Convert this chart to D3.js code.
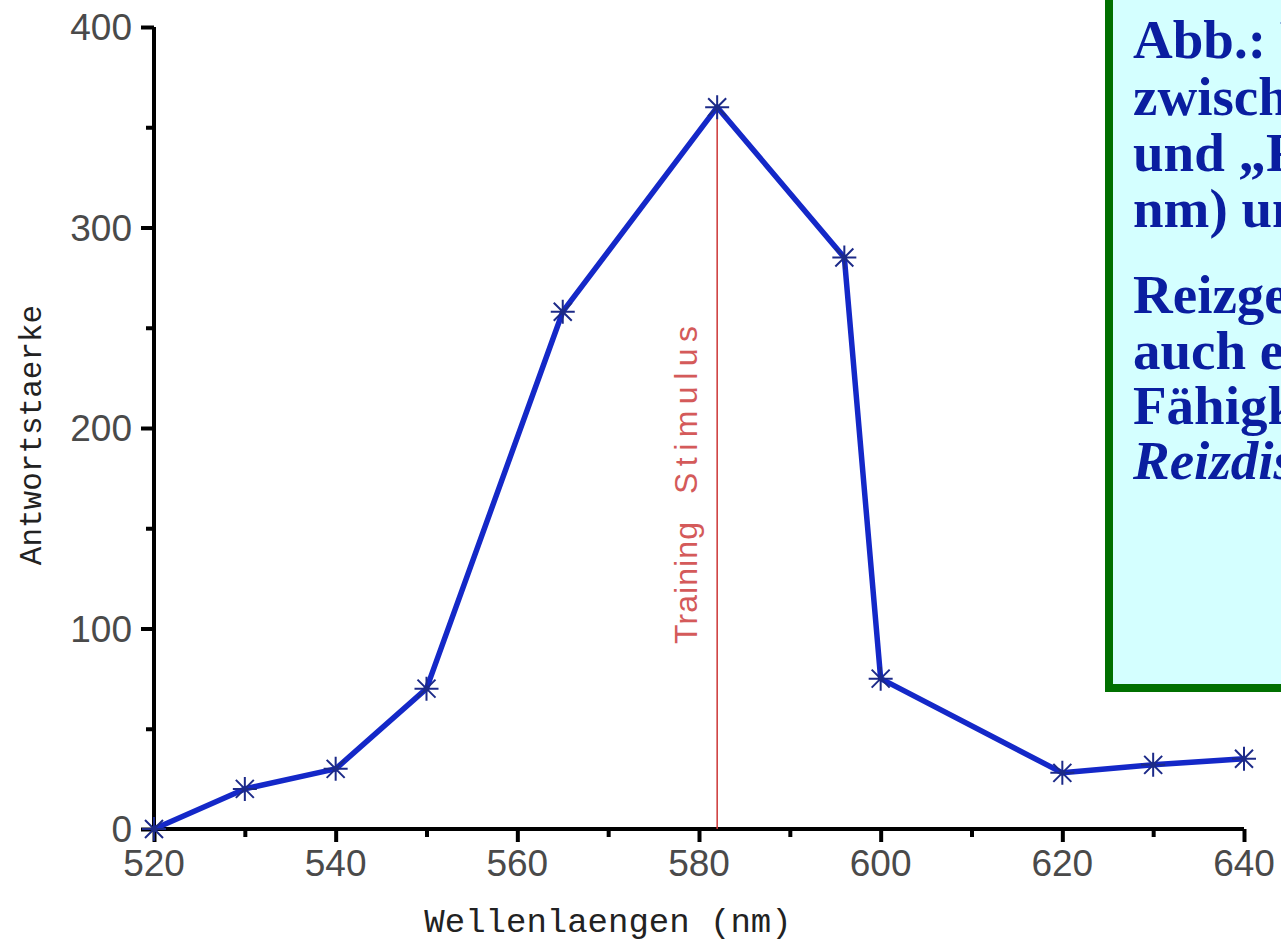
<!DOCTYPE html>
<html>
<head>
<meta charset="utf-8">
<script src="https://cdn.jsdelivr.net/npm/d3@7"></script>
<style>
  body { margin: 0; background: #fff; }
  svg { display: block; }
</style>
</head>
<body>
<div id="chart"></div>
<script>
// wavelengths (nm) and response strength
var wavelengths = [520, 530, 540, 550, 565, 582, 596, 600, 620, 630, 640];
var responses = [0, 20, 30, 70, 258, 360, 285, 75, 28, 32, 35];
var xTicks = [520, 540, 560, 580, 600, 620, 640];
var yTicks = [0, 100, 200, 300, 400];
var trainingStimulus = 582;
var boxLines = [
    'Abb.: Reizgeneralisierung',
    'zwischen „Grün“ (520 nm)',
    'und „Rot“ (640',
    'nm) um 582 nm',
    'Reizgeneralisierung ist',
    'auch eine wichtige',
    'Fähigkeit (vgl.',
    'Reizdiskrimination)'
];

var width = 1281;
var height = 947;

var svg = d3.select('#chart').append('svg')
    .attr('width', width)
    .attr('height', height);

var x = d3.scaleLinear().domain([520, 640]).range([154, 1244]);
var y = d3.scaleLinear().domain([0, 400]).range([829, 27]);

var data = wavelengths.map((w, i) => ({w: w, r: responses[i]}));

// axes
var xAxis = svg.append('g')
    .attr('transform', `translate(0,${y(0)})`)
    .call(d3.axisBottom(x).tickValues(d3.range(520, 641, 10)).tickSize(12).tickFormat(''));
var yAxis = svg.append('g')
    .attr('transform', `translate(${x(520)},0)`)
    .call(d3.axisLeft(y).tickValues(d3.range(0, 401, 50)).tickSize(12).tickFormat(''));

[xAxis, yAxis].forEach(g => {
    g.select('.domain').attr('stroke', '#000').attr('stroke-width', 4);
    g.selectAll('.tick line').attr('stroke', '#000').attr('stroke-width', 4);
});
xAxis.selectAll('.tick line').attr('y2', d => d % 20 == 0 ? 13 : 8);
yAxis.selectAll('.tick line').attr('x2', d => d % 100 == 0 ? -13 : -8);
xAxis.select('.domain').attr('d', `M${x(520)},0H${x(640)}`);
yAxis.select('.domain').attr('d', `M0,${y(0)}V${y(400)}`);

// tick labels
svg.append('g').selectAll('text')
    .data(xTicks)
    .join('text')
    .attr('x', d => x(d))
    .attr('y', y(0) + 47)
    .attr('text-anchor', 'middle')
    .attr('font-family', 'Liberation Sans, Arial, sans-serif')
    .attr('font-size', 37)
    .attr('fill', '#4a4a4a')
    .text(d => d);

svg.append('g').selectAll('text')
    .data(yTicks)
    .join('text')
    .attr('x', x(520) - 22)
    .attr('y', d => y(d) + 13)
    .attr('text-anchor', 'end')
    .attr('font-family', 'Liberation Sans, Arial, sans-serif')
    .attr('font-size', 37)
    .attr('fill', '#4a4a4a')
    .text(d => d);

// axis titles
svg.append('text')
    .attr('x', 608)
    .attr('y', 932)
    .attr('text-anchor', 'middle')
    .attr('font-family', 'Liberation Mono, Courier New, monospace')
    .attr('font-size', 34)
    .attr('fill', '#222')
    .text('Wellenlaengen (nm)');

svg.append('text')
    .attr('transform', `translate(41,435)rotate(-90)`)
    .attr('text-anchor', 'middle')
    .attr('font-family', 'Liberation Mono, Courier New, monospace')
    .attr('font-size', 31)
    .attr('fill', '#222')
    .text('Antwortstaerke');

// training stimulus line
var peak = data.find(d => d.w == trainingStimulus);
svg.append('line')
    .attr('x1', x(trainingStimulus))
    .attr('x2', x(trainingStimulus))
    .attr('y1', y(peak.r))
    .attr('y2', y(0))
    .attr('stroke', '#cc3535')
    .attr('stroke-width', 1.5);

// label words, spread along the line like the original
var stimWords = [{t: 'Training', c: 583, len: 122}, {t: 'Stimulus', c: 410, len: 168}];
svg.append('g').selectAll('text')
    .data(stimWords)
    .join('text')
    .attr('transform', d => `translate(${x(trainingStimulus) - 20},${d.c})rotate(-90)`)
    .attr('text-anchor', 'middle')
    .attr('font-family', 'Liberation Sans, Arial, sans-serif')
    .attr('font-size', 32)
    .attr('textLength', d => d.len)
    .attr('lengthAdjust', 'spacing')
    .attr('fill', '#d45a5a')
    .text(d => d.t);

// data line
var line = d3.line().x(d => x(d.w)).y(d => y(d.r));
svg.append('path')
    .datum(data)
    .attr('d', line)
    .attr('fill', 'none')
    .attr('stroke', '#1428c8')
    .attr('stroke-width', 5.5)
    .attr('stroke-linejoin', 'round');

// asterisk markers
var s = 12;
var star = `M0,${-s}V${s}M${-s},0H${s}M${-s*0.75},${-s*0.75}L${s*0.75},${s*0.75}M${-s*0.75},${s*0.75}L${s*0.75},${-s*0.75}`;
svg.append('g').selectAll('path')
    .data(data)
    .join('path')
    .attr('transform', d => `translate(${x(d.w)},${y(d.r)})`)
    .attr('d', star)
    .attr('stroke', '#1c2a88')
    .attr('stroke-width', 2)
    .attr('fill', 'none');

// text box on the right (cut off at the page edge like the original)
svg.append('rect')
    .attr('x', 1109)
    .attr('y', -10)
    .attr('width', 200)
    .attr('height', 698)
    .attr('fill', '#d4ffff')
    .attr('stroke', '#007000')
    .attr('stroke-width', 8);

var lineY = [58, 115, 171, 227, 313, 369, 424, 479];
svg.append('g').selectAll('text')
    .data(boxLines)
    .join('text')
    .attr('x', 1133)
    .attr('y', (d, i) => lineY[i])
    .attr('font-family', 'Liberation Serif, Times New Roman, serif')
    .attr('font-weight', 'bold')
    .attr('font-style', (d, i) => i == 7 ? 'italic' : 'normal')
    .attr('font-size', 55)
    .attr('fill', '#0a1ea0')
    .text(d => d);
</script>
</body>
</html>
